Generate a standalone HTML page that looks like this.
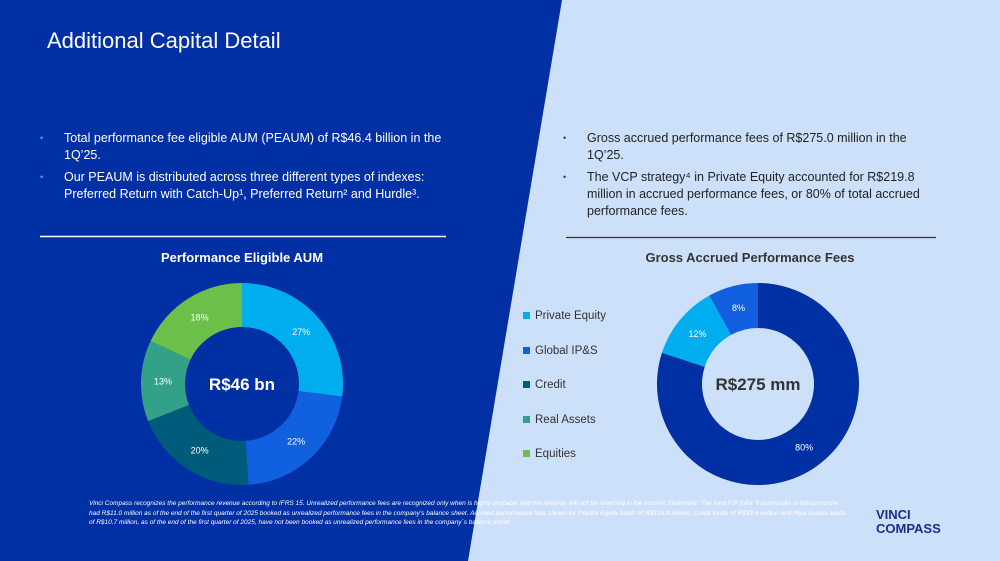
<!DOCTYPE html>
<html><head><meta charset="utf-8"><style>
body{margin:0;width:1000px;height:561px;overflow:hidden;font-family:"Liberation Sans",sans-serif;position:relative;background:#cde0fa}
.abs{position:absolute}
ul{margin:0;padding:0;list-style:none}
li{position:relative;padding-left:24px;font-size:12.5px;line-height:17px;margin-bottom:5px;white-space:nowrap}
li:before{content:"•";position:absolute;left:0;top:0;font-size:9px}
.lw li{color:#fff}.lw li:before{color:#29b6f6}
.rw li{color:#222}.rw li:before{color:#1a3a8a}
</style></head><body>
<svg class="abs" style="left:0;top:0" width="1000" height="561">
<polygon points="0,0 562,0 468,561 0,561" fill="#0030a3"/>
<line x1="40" y1="236.5" x2="446" y2="236.5" stroke="#fff" stroke-width="1.5"/>
<line x1="566" y1="237.5" x2="936" y2="237.5" stroke="#333" stroke-width="1.2"/>
</svg>
<div class="abs" style="left:47px;top:28px;color:#fff;font-size:22px">Additional Capital Detail</div>
<ul class="abs lw" style="left:40px;top:130px;width:420px">
<li>Total performance fee eligible AUM (PEAUM) of R$46.4 billion in the<br>1Q’25.</li>
<li>Our PEAUM is distributed across three different types of indexes:<br>Preferred Return with Catch-Up¹, Preferred Return² and Hurdle³.</li>
</ul>
<ul class="abs rw" style="left:563px;top:130px;width:370px">
<li>Gross accrued performance fees of R$275.0 million in the<br>1Q’25.</li>
<li>The VCP strategy⁴ in Private Equity accounted for R$219.8<br>million in accrued performance fees, or 80% of total accrued<br>performance fees.</li>
</ul>
<div class="abs" style="left:92px;width:300px;top:250px;text-align:center;color:#fff;font-weight:bold;font-size:13px">Performance Eligible AUM</div>
<div class="abs" style="left:600px;width:300px;top:250px;text-align:center;color:#333;font-weight:bold;font-size:13px">Gross Accrued Performance Fees</div>
<svg id="charts" class="abs" style="left:0;top:0" width="1000" height="561"></svg>
<div class="abs" style="left:523px;top:310px;font-size:11.5px;color:#333">
<div style="height:34.5px"><span style="display:inline-block;width:7px;height:7px;background:#00aeef;margin-right:5px"></span>Private Equity</div>
<div style="height:34.5px"><span style="display:inline-block;width:7px;height:7px;background:#1060e0;margin-right:5px"></span>Global IP&amp;S</div>
<div style="height:34.5px"><span style="display:inline-block;width:7px;height:7px;background:#005b7a;margin-right:5px"></span>Credit</div>
<div style="height:34.5px"><span style="display:inline-block;width:7px;height:7px;background:#33a08a;margin-right:5px"></span>Real Assets</div>
<div style="height:34.5px"><span style="display:inline-block;width:7px;height:7px;background:#6cc04a;margin-right:5px"></span>Equities</div>
</div>
<div class="abs" style="left:89px;top:499px;width:760px;font-size:6.5px;line-height:9.5px;font-style:italic;color:#fff">Vinci Compass recognizes the performance revenue according to IFRS 15. Unrealized performance fees are recognized only when is highly probable that the revenue will not be reversed in the Income Statement. The fund FIP Infra Transmissão in Infrastructure had R$11.0 million as of the end of the first quarter of 2025 booked as unrealized performance fees in the company’s balance sheet. Accrued performance fees shown for Private Equity funds of R$219.8 million, Credit funds of R$33.6 million and Real Assets funds of R$10.7 million, as of the end of the first quarter of 2025, have not been booked as unrealized performance fees in the company´s balance sheet.</div>
<div class="abs" style="left:876px;top:508px;color:#1a2e8a;font-weight:bold;font-size:13px;line-height:14px">VINCI<br>COMPASS</div>
<script>
const aumLabels=["Private Equity","Global IP&S","Credit","Real Assets","Equities"];
const aumValues=[27,22,20,13,18];
const aumColors=["#00aeef","#1060e0","#005b7a","#33a08a","#6cc04a"];
const feeLabels=["Private Equity","Credit","Real Assets"];
const feeValues=[80,12,8];
const feeColors=["#0030a3","#00aeef","#1060e0"];
const NS="http://www.w3.org/2000/svg";
const svg=document.getElementById('charts');
function donut(cx,cy,R,r,vals,cols,name,center,centerColor){
  const tot=vals.reduce((a,b)=>a+b,0);let a0=0;
  vals.forEach((v,i)=>{
    const a1=a0+v/tot*2*Math.PI;
    const p=(a,rr)=>[cx+rr*Math.sin(a),cy-rr*Math.cos(a)];
    const [x1,y1]=p(a0,R),[x2,y2]=p(a1,R),[x3,y3]=p(a1,r),[x4,y4]=p(a0,r);
    const lg=(a1-a0)>Math.PI?1:0;
    const path=document.createElementNS(NS,'path');
    path.setAttribute('d',`M${x1},${y1}A${R},${R} 0 ${lg} 1 ${x2},${y2}L${x3},${y3}A${r},${r} 0 ${lg} 0 ${x4},${y4}Z`);
    path.setAttribute('fill',cols[i]);
    
    
    svg.appendChild(path);
    const [tx,ty]=p((a0+a1)/2,(R+r)/2);
    const t=document.createElementNS(NS,'text');
    t.setAttribute('x',tx);t.setAttribute('y',ty+3);t.setAttribute('text-anchor','middle');
    t.setAttribute('fill','#fff');t.setAttribute('font-size','9');t.setAttribute('font-family','Liberation Sans, sans-serif');
    t.textContent=v+'%';
    
    
    svg.appendChild(t);
    a0=a1;
  });
  const c=document.createElementNS(NS,'text');
  c.setAttribute('x',cx);c.setAttribute('y',cy+6);c.setAttribute('text-anchor','middle');
  c.setAttribute('fill',centerColor);c.setAttribute('font-size','17');c.setAttribute('font-weight','bold');
  c.setAttribute('font-family','Liberation Sans, sans-serif');c.textContent=center;
  
  
  svg.appendChild(c);
}
donut(242,384,101,57,aumValues,aumColors,'aum-donut','R$46 bn','#fff');
donut(758,384,101,56,feeValues,feeColors,'fees-donut','R$275 mm','#333');
</script>
</body></html>
